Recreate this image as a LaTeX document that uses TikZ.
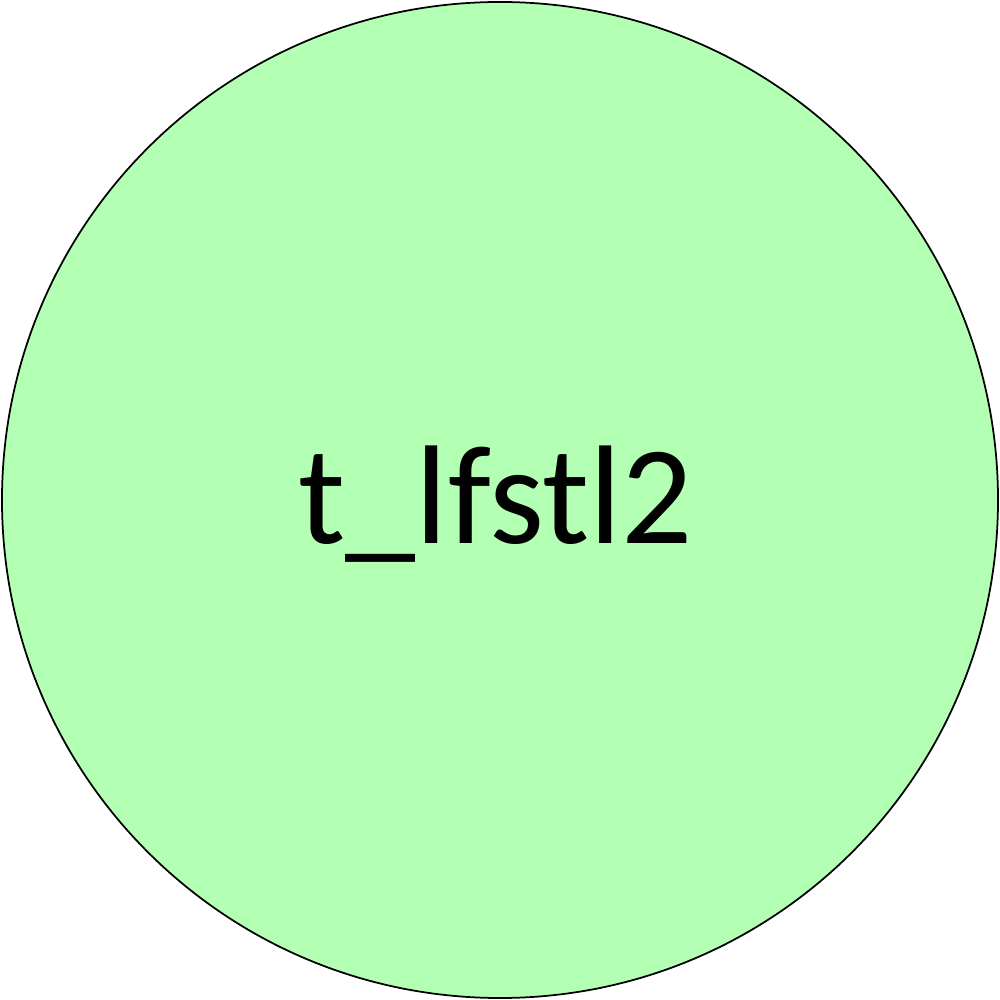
\documentclass[tikz,border=0pt]{standalone}
\usepackage{fontspec}
\setmainfont{Carlito}
\usepackage{tikz}
\definecolor{statefill}{RGB}{179,255,179}

\begin{document}
\begin{tikzpicture}
 \useasboundingbox (-5,-5) rectangle (5,5);
 \node [circle,draw=black,line width=0.5pt,fill=statefill,inner sep=0pt,minimum size = 9.96cm] (L2)at (0,0){};
 \node [inner sep=0pt,font=\fontsize{40}{48}\selectfont] (L2txt)at (-0.04,-0.04){t\_lfstl2};
\end{tikzpicture}
\end{document}
